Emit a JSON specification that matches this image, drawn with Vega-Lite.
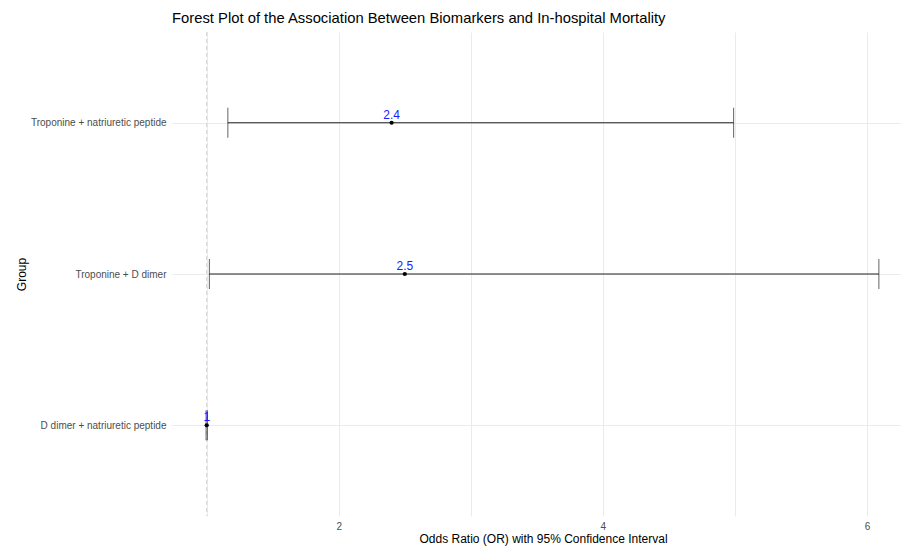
{
  "$schema": "https://vega.github.io/schema/vega-lite/v6.json",
  "autosize": "none",
  "width": 728,
  "height": 484,
  "padding": {"left": 172, "top": 32, "right": 2, "bottom": 31},
  "background": "white",
  "config": {
    "view": {"stroke": null},
    "font": "Liberation Sans",
    "axis": {"domain": false, "ticks": false, "grid": true, "gridColor": "#ebebeb", "gridWidth": 1, "labelColor": "#4d4d4d", "labelFontSize": 10, "titleFontWeight": "normal", "titleFontSize": 12, "titleColor": "#000000", "labelFont": "Liberation Sans", "titleFont": "Liberation Sans"}
  },
  "title": {"text": "Forest Plot of the Association Between Biomarkers and In-hospital Mortality", "anchor": "start", "frame": "group", "fontSize": 14.8, "fontWeight": "normal", "font": "Liberation Sans", "color": "#000000", "offset": 6},
  "data": {"values": [
    {"group": "Troponine + natriuretic peptide", "or": 2.4, "lower": 1.16, "upper": 4.99, "label": "2.4"},
    {"group": "Troponine + D dimer", "or": 2.5, "lower": 1.02, "upper": 6.09, "label": "2.5"},
    {"group": "D dimer + natriuretic peptide", "or": 1.0, "lower": 0.995, "upper": 1.005, "label": "1"}
  ]},
  "encoding": {
    "y": {"field": "group", "type": "nominal", "sort": ["Troponine + natriuretic peptide", "Troponine + D dimer", "D dimer + natriuretic peptide"],
      "scale": {"type": "point", "padding": 0.6},
      "axis": {"title": "Group", "grid": true, "labelPadding": 6, "titlePadding": 2, "labelLimit": 300}}
  },
  "layer": [
    {
      "data": {"values": [{"ref": 1}]},
      "mark": {"type": "rule", "color": "#d0d0d0", "strokeDash": [4, 3], "strokeWidth": 1},
      "encoding": {"x": {"field": "ref", "type": "quantitative"}, "y": null}
    },
    {
      "mark": {"type": "rule", "color": "#222222", "strokeWidth": 1},
      "encoding": {
        "x": {"field": "lower", "type": "quantitative",
          "scale": {"domain": [0.737, 6.25], "nice": false, "zero": false},
          "axis": {"title": "Odds Ratio (OR) with 95% Confidence Interval", "titleX": 371, "titleAlign": "center", "values": [1, 2, 3, 4, 5, 6], "labelExpr": "datum.value % 2 == 0 ? format(datum.value, 'd') : ''", "labelPadding": 5, "titlePadding": 2}},
        "x2": {"field": "upper"}
      }
    },
    {
      "mark": {"type": "tick", "color": "#222222", "size": 30, "thickness": 1, "orient": "vertical"},
      "encoding": {"x": {"field": "lower", "type": "quantitative"}}
    },
    {
      "mark": {"type": "tick", "color": "#222222", "size": 30, "thickness": 1, "orient": "vertical"},
      "encoding": {"x": {"field": "upper", "type": "quantitative"}}
    },
    {
      "mark": {"type": "point", "filled": true, "color": "#000000", "size": 18, "opacity": 1},
      "encoding": {"x": {"field": "or", "type": "quantitative"}}
    },
    {
      "mark": {"type": "text", "color": "#1a1aff", "fontSize": 12, "dy": -1, "baseline": "bottom", "font": "Liberation Sans"},
      "encoding": {"x": {"field": "or", "type": "quantitative"}, "text": {"field": "label"}}
    }
  ]
}
